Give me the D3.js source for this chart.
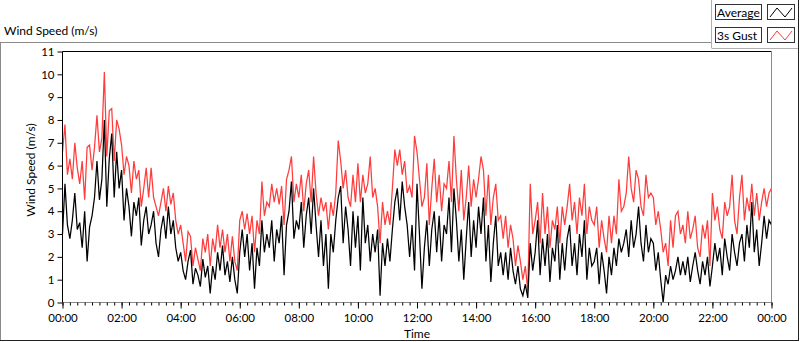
<!DOCTYPE html>
<html>
<head>
<meta charset="utf-8">
<script src="https://cdn.jsdelivr.net/npm/d3@7"></script>
<style>
  body { margin: 0; background: #fff; }
  text { font-family: Lato, "Noto Sans", sans-serif; fill: #000; }
</style>
</head>
<body>
<script>
// 5 minute samples, 00:00 .. 24:00
const sampleMinutes = 5;

const avgSpeed = [
  3.0, 5.2, 3.4, 2.8, 3.6, 4.8, 3.2, 3.5, 2.4, 4.0, 1.8, 3.3,
  3.8, 4.6, 6.2, 4.5, 5.4, 8.0, 4.2, 6.3, 7.4, 4.6, 6.6, 5.0,
  5.8, 3.6, 5.0, 4.2, 2.9, 4.4, 3.8, 4.6, 2.5, 3.6, 4.2, 3.0,
  3.4, 4.0, 2.6, 2.0, 3.2, 3.8, 2.8, 4.2, 3.0, 3.6, 2.4, 1.8,
  2.2, 1.4, 1.0, 1.8, 2.3, 0.8, 1.5, 1.2, 0.7, 1.9, 1.1, 1.6,
  0.4, 1.6, 1.0, 2.2, 1.4, 2.5, 1.2, 1.8, 0.9, 2.0, 1.0, 0.4,
  2.2, 3.2, 2.0, 3.0, 1.4, 2.6, 0.6, 2.4, 1.6, 3.6, 2.2, 3.0,
  2.4, 3.6, 1.8, 3.2, 2.6, 3.8, 1.2, 3.4, 4.0, 5.3, 2.8, 3.6,
  3.2, 4.4, 2.4, 3.8, 4.6, 3.0, 5.0, 3.4, 2.0, 3.6, 1.6, 3.0,
  0.6, 3.0, 2.2, 3.6, 4.6, 5.1, 2.6, 4.2, 3.2, 1.6, 4.0, 2.4,
  3.8, 1.4, 4.6, 2.6, 3.4, 1.8, 3.0, 2.2, 3.2, 0.3, 2.6, 1.6,
  2.8, 1.8, 3.2, 4.4, 5.0, 3.6, 5.3, 4.2, 3.4, 2.0, 3.4, 1.4,
  5.2, 3.0, 0.6, 2.4, 3.6, 1.6, 3.2, 4.0, 2.2, 3.8, 1.8, 3.4,
  3.0, 4.6, 2.2, 5.0, 3.6, 1.8, 3.2, 1.0, 2.8, 4.4, 2.0, 3.6,
  2.4, 4.2, 3.0, 4.6, 1.8, 3.4, 0.9, 2.6, 3.8, 1.6, 2.2, 1.2,
  2.2, 1.0, 2.4, 1.4, 0.8, 1.6, 0.6, 0.3, 0.8, 0.2, 2.6, 1.4,
  2.2, 3.6, 1.2, 2.8, 1.6, 3.0, 0.9, 2.4, 1.8, 3.4, 1.0, 2.6,
  1.4, 2.8, 3.4, 1.6, 2.6, 1.2, 3.0, 2.0, 3.6, 1.0, 2.4, 1.6,
  1.8, 2.4, 0.8, 2.2, 1.4, 0.4, 2.0, 1.2, 2.4, 1.6, 2.8, 2.2,
  2.6, 3.2, 2.0, 3.6, 2.4, 3.0, 4.2, 2.6, 1.8, 3.4, 2.2, 2.8,
  2.6, 1.4, 2.2, 1.0, 0.0, 1.2, 0.8, 1.6, 1.0, 1.4, 2.0, 1.2,
  1.8, 1.2, 2.0, 0.9, 1.6, 2.2, 1.4, 0.8, 1.8, 1.2, 2.0, 0.7,
  1.6, 2.6, 1.8, 2.4, 1.2, 2.8, 2.0, 1.4, 3.0, 2.2, 1.6, 2.6,
  3.0, 1.8, 3.4, 2.4, 4.4, 2.2, 3.2, 1.6, 2.6, 3.8, 2.8, 3.6, 3.4
];

const gustSpeed = [
  6.6, 7.8, 5.6, 6.3, 5.4, 7.0, 5.9, 5.2, 6.2, 4.5, 6.8, 6.9,
  5.8, 6.8, 8.2, 6.6, 7.2, 10.1, 6.4, 8.4, 8.5, 6.2, 8.0, 7.6,
  6.9, 5.6, 6.4, 6.0, 4.8, 6.2, 5.4, 5.8, 4.2, 5.0, 5.9, 4.6,
  5.9, 4.6, 4.2, 3.8, 4.4, 5.0, 4.0, 5.1, 4.3, 4.8, 3.6, 3.0,
  3.4, 2.6, 1.8, 3.1, 2.9, 1.6, 2.4, 1.9, 1.4, 2.8, 2.2, 3.0,
  1.6, 2.8, 2.2, 3.4, 2.4, 3.2, 2.2, 3.0, 1.8, 2.9, 1.8, 1.4,
  3.6, 4.0, 3.2, 3.9, 3.0, 3.8, 2.2, 3.6, 3.0, 5.3, 3.8, 4.4,
  4.2, 5.2, 4.4, 5.0, 4.3, 5.1, 3.4, 5.4, 5.8, 6.4, 4.4, 5.2,
  4.6, 5.6, 4.0, 5.2, 5.8, 4.4, 6.4, 4.8, 3.8, 4.6, 4.0, 4.4,
  3.2, 4.4, 3.8, 4.8, 7.1, 6.2, 5.0, 5.8, 4.6, 4.2, 5.6, 4.4,
  6.1, 4.4, 5.6, 4.8, 5.2, 6.4, 4.6, 5.0, 4.2, 2.6, 4.4, 3.4,
  4.0, 3.4, 5.0, 6.7, 6.0, 6.7, 5.6, 6.2, 4.8, 5.1, 4.6, 7.3,
  6.6, 5.4, 4.2, 4.6, 6.1, 3.4, 5.0, 6.3, 4.4, 5.6, 4.0, 5.2,
  5.0, 6.2, 4.4, 7.3, 5.4, 4.0, 5.8, 3.6, 4.6, 6.0, 4.2, 5.4,
  4.6, 5.4, 6.4, 5.8, 3.8, 5.6, 3.4, 4.6, 5.2, 3.6, 3.8, 2.8,
  3.8, 2.4, 3.4, 2.8, 1.6, 2.5, 1.8, 1.0, 1.6, 0.5, 5.2, 3.0,
  3.6, 4.4, 2.6, 4.8, 3.0, 4.2, 2.4, 3.6, 3.2, 4.2, 2.6, 4.2,
  3.4, 4.2, 5.2, 3.6, 4.4, 3.0, 4.6, 3.8, 5.2, 3.0, 4.2, 3.6,
  3.4, 4.2, 2.4, 3.6, 2.8, 2.2, 3.8, 2.6, 3.8, 3.0, 5.4, 4.0,
  4.2, 4.8, 6.4, 5.0, 4.4, 5.8, 5.4, 4.2, 3.8, 5.6, 4.6, 4.8,
  4.6, 3.4, 4.0, 3.2, 2.2, 2.6, 1.6, 3.6, 2.4, 3.8, 4.0, 3.0,
  3.4, 2.6, 4.0, 2.8, 3.2, 3.8, 2.4, 2.0, 3.4, 2.8, 3.6, 1.6,
  4.8, 3.6, 4.2, 3.2, 2.8, 4.4, 3.8, 4.2, 5.6, 3.6, 3.0, 4.6,
  5.6, 3.6, 4.6, 4.0, 5.2, 3.8, 4.8, 3.6, 4.4, 5.0, 4.2, 4.8, 5.0
];

const yTicks = [0, 1, 2, 3, 4, 5, 6, 7, 8, 9, 10, 11];
const seriesNames = ["Average", "3s Gust"];
const seriesColors = ["#000000", "#ff3c3c"];

const width = 800, height = 342;
const plot = { left: 62.5, right: 771.5, top: 51.5, bottom: 302.5 };

const day0 = new Date(2020, 0, 1, 0, 0);
const day1 = new Date(2020, 0, 2, 0, 0);
const timeAt = i => new Date(day0.getTime() + i * sampleMinutes * 60000);

let svg = d3.select("body")
    .append("svg")
    .attr("width", width)
    .attr("height", height);

// outer panel frame
svg.append("line").attr("x1", 0).attr("x2", 711.5).attr("y1", 42.5).attr("y2", 42.5).attr("stroke", "#8a8a8a");
svg.append("line").attr("x1", 0.5).attr("x2", 0.5).attr("y1", 42.5).attr("y2", 341).attr("stroke", "#8a8a8a");
svg.append("line").attr("x1", 0).attr("x2", 799).attr("y1", 340.5).attr("y2", 340.5).attr("stroke", "#222");
svg.append("line").attr("x1", 798.5).attr("x2", 798.5).attr("y1", 0).attr("y2", 341).attr("stroke", "#222");

svg.append("text")
    .text("Wind Speed (m/s)")
    .attr("x", 4)
    .attr("y", 35)
    .style("font-size", "12px");

let x = d3.scaleTime().domain([day0, day1]).range([plot.left, plot.right]);
let y = d3.scaleLinear().domain([0, 11]).range([plot.bottom, plot.top]);

// series, gust underneath
let line = d3.line()
    .x((d, i) => x(timeAt(i)))
    .y(d => y(d));

[gustSpeed, avgSpeed].forEach((series, k) => {
    svg.append("path")
        .datum(series)
        .attr("d", line)
        .attr("fill", "none")
        .attr("stroke", k === 0 ? seriesColors[1] : seriesColors[0])
        .attr("stroke-width", 1.25)
        .attr("stroke-linejoin", "miter");
});

// plot frame
svg.append("line").attr("x1", plot.left).attr("x2", plot.right).attr("y1", plot.top).attr("y2", plot.top).attr("stroke", "#000");
svg.append("line").attr("x1", plot.right).attr("x2", plot.right).attr("y1", plot.top).attr("y2", plot.bottom).attr("stroke", "#8a8a8a");
svg.append("line").attr("x1", plot.left).attr("x2", plot.right).attr("y1", plot.bottom).attr("y2", plot.bottom).attr("stroke", "#8a8a8a");
svg.append("line").attr("x1", plot.left).attr("x2", plot.left).attr("y1", plot.top).attr("y2", plot.bottom).attr("stroke", "#000");

// y axis
let yAxis = svg.append("g")
    .attr("transform", "translate(" + plot.left + ",0)")
    .call(d3.axisLeft(y).tickValues(yTicks).tickSize(5).tickPadding(3).tickFormat(d3.format("d")));
yAxis.select(".domain").remove();
yAxis.selectAll("text").style("font-size", "11.5px").attr("fill", "#000");
yAxis.selectAll("line").attr("stroke", "#000");

// x axis, minor then major ticks
let xMinor = svg.append("g")
    .attr("transform", "translate(0," + plot.bottom + ")")
    .call(d3.axisBottom(x).ticks(d3.timeMinute.every(15)).tickSize(3).tickFormat(""));
xMinor.select(".domain").remove();
xMinor.selectAll("line").attr("stroke", "#000");

let xAxis = svg.append("g")
    .attr("transform", "translate(0," + plot.bottom + ")")
    .call(d3.axisBottom(x).ticks(d3.timeHour.every(2)).tickSize(6).tickPadding(5).tickFormat(d3.timeFormat("%H:%M")));
xAxis.select(".domain").remove();
xAxis.selectAll("text").style("font-size", "11.5px").attr("fill", "#000");
xAxis.selectAll("line").attr("stroke", "#000");

svg.append("text")
    .text("Time")
    .attr("x", (plot.left + plot.right) / 2)
    .attr("y", 338)
    .attr("text-anchor", "middle")
    .style("font-size", "12px");

svg.append("text")
    .text("Wind Speed (m/s)")
    .attr("transform", "translate(35,170) rotate(-90)")
    .attr("text-anchor", "middle")
    .style("font-size", "12px");

// legend
let legendPanel = svg.append("g");
legendPanel.append("line").attr("x1", 711.5).attr("x2", 711.5).attr("y1", 0).attr("y2", 48).attr("stroke", "#b0b0b0");
legendPanel.append("line").attr("x1", 711.5).attr("x2", 798).attr("y1", 48.5).attr("y2", 48.5).attr("stroke", "#b0b0b0");

let legend = legendPanel.selectAll("g.item")
    .data(seriesNames)
    .enter()
    .append("g")
    .attr("class", "item")
    .attr("transform", (d, i) => "translate(0," + (i * 23) + ")");

legend.append("rect")
    .attr("x", 715.5).attr("y", 4.5).attr("width", 46).attr("height", 15)
    .attr("fill", "#fff").attr("stroke", "#333");
legend.append("text")
    .text(d => d)
    .attr("x", 717)
    .attr("y", 16.5)
    .style("font-size", "12px");
legend.append("rect")
    .attr("x", 767.5).attr("y", 4.5).attr("width", 27).attr("height", 15)
    .attr("fill", "#fff").attr("stroke", "#333");
legend.append("polyline")
    .attr("points", "770,17 777,8 785,17 792,8")
    .attr("fill", "none")
    .attr("stroke", (d, i) => seriesColors[i]);
</script>
</body>
</html>
